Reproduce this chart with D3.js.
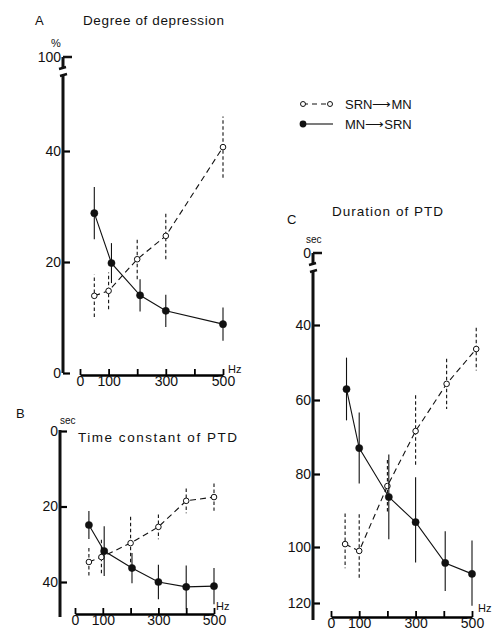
<!DOCTYPE html>
<html>
<head>
<meta charset="utf-8">
<script src="https://cdn.jsdelivr.net/npm/d3@7"></script>
<style>
  body { margin: 0; background: #fff; }
  svg { display: block; font-family: "Liberation Sans", Arial, sans-serif; }
  .tick text { font-size: 14px; fill: #111; }
  .lbl { fill: #111; }
</style>
</head>
<body>
<div id="chart"></div>
<script>
'use strict';

// frequency axis
const hzTicks = [0, 100, 200, 300, 400, 500];
const hzLabelled = [0, 100, 300, 500];

// A  Degree of depression (%)
const freqA_srnMn = [50, 100, 200, 300, 500];
const srnMnA = [13.9, 14.8, 20.5, 24.7, 40.7];
const srnMnA_sd = [3.8, 3.3, 3.6, 4.2, 5.5];
const freqA_mnSrn = [50, 110, 210, 300, 500];
const mnSrnA = [28.8, 19.8, 14.0, 11.2, 8.8];
const mnSrnA_sd = [4.7, 3.6, 2.9, 2.9, 3.0];
const ticksA = [0, 20, 40];

// B  Time constant of PTD (sec)
const freqB_srnMn = [50, 95, 200, 300, 400, 500];
const srnMnB = [34.7, 33.4, 29.7, 25.4, 18.5, 17.5];
const srnMnB_sd = [3.7, 4.6, 7.0, 3.3, 3.3, 3.6];
const freqB_mnSrn = [50, 105, 205, 300, 400, 500];
const mnSrnB = [24.9, 31.8, 36.3, 40.0, 41.3, 41.1];
const mnSrnB_sd = [3.7, 6.6, 4.0, 4.6, 5.7, 4.8];
const ticksB = [0, 20, 40];

// C  Duration of PTD (sec)
const freqC_srnMn = [50, 100, 200, 300, 410, 515];
const srnMnC = [99.2, 101.4, 83.3, 68.4, 55.7, 46.4];
const srnMnC_sd = [8.4, 10.4, 7.1, 9.7, 6.7, 5.7];
const freqC_mnSrn = [55, 100, 205, 300, 405, 500];
const mnSrnC = [57.1, 73.0, 86.3, 93.2, 105.7, 109.6];
const mnSrnC_sd = [8.4, 9.6, 11.6, 12.3, 10.0, 11.4];
const ticksC = [40, 60, 80, 100, 120];

const ink = '#111';
const width = 493, height = 634;

const svg = d3.select('#chart').append('svg')
    .attr('width', width)
    .attr('height', height);

function text(x, y, str, size, anchor) {
    return svg.append('text')
        .attr('class', 'lbl')
        .attr('x', x).attr('y', y)
        .attr('font-size', size)
        .attr('text-anchor', anchor || 'start')
        .text(str);
}

function yAxis(y, ax, ticks, top, bottom) {
    svg.append('g')
        .attr('transform', `translate(${ax},0)`)
        .call(d3.axisLeft(y).tickValues(ticks).tickSizeInner(-7).tickSizeOuter(0).tickPadding(2))
        .call(g => g.select('.domain').remove())
        .call(g => g.selectAll('.tick line').attr('stroke-width', 2.2));
    svg.append('line')
        .attr('x1', ax).attr('x2', ax)
        .attr('y1', top).attr('y2', bottom)
        .attr('stroke', ink).attr('stroke-width', 3);
}

function xAxis(x, yPos) {
    svg.append('g')
        .attr('transform', `translate(0,${yPos})`)
        .call(d3.axisBottom(x).tickValues(hzTicks).tickSizeInner(-6).tickSizeOuter(0).tickPadding(1)
            .tickFormat(d => hzLabelled.includes(d) ? d : ''))
        .call(g => g.select('.domain').attr('stroke-width', 2.5))
        .call(g => g.selectAll('.tick line').attr('stroke-width', 1.8));
}

// broken axis top: short piece with the label, then the gap
function axisBreak(ax, topY, label) {
    const seg = [
        [ax, topY, ax + 9, topY, 2.5],
        [ax, topY, ax, topY + 11, 3],
        [ax - 4, topY + 12, ax + 3, topY + 10, 2.4],
        [ax - 3, topY + 19, ax + 4, topY + 17, 2.4]
    ];
    svg.selectAll(null).data(seg).enter().append('line')
        .attr('x1', d => d[0]).attr('y1', d => d[1])
        .attr('x2', d => d[2]).attr('y2', d => d[3])
        .attr('stroke', ink).attr('stroke-width', d => d[4]);
    text(ax - 2, topY + 5, label, 14, 'end');
}

function series(x, y, xs, ys, sds, open) {
    const pts = xs.map((f, i) => ({ f: f, v: ys[i], sd: sds[i] }));
    const g = svg.append('g');
    g.selectAll('line').data(pts).enter().append('line')
        .attr('x1', d => x(d.f)).attr('x2', d => x(d.f))
        .attr('y1', d => y(d.v - d.sd)).attr('y2', d => y(d.v + d.sd))
        .attr('stroke', ink).attr('stroke-width', 1.1)
        .attr('stroke-dasharray', open ? '3.5,2.5' : null);
    g.append('path').datum(pts)
        .attr('d', d3.line().x(d => x(d.f)).y(d => y(d.v)))
        .attr('fill', 'none').attr('stroke', ink).attr('stroke-width', 1.1)
        .attr('stroke-dasharray', open ? '6,4' : null);
    g.selectAll('circle').data(pts).enter().append('circle')
        .attr('cx', d => x(d.f)).attr('cy', d => y(d.v))
        .attr('r', open ? 2.8 : 3.6)
        .attr('fill', open ? '#fff' : ink)
        .attr('stroke', ink).attr('stroke-width', open ? 1 : 0.5);
}

// ---- Panel A
let xA = d3.scaleLinear().domain([0, 500]).range([80, 223]);
let yA = d3.scaleLinear().domain([0, 40]).range([373, 151]);
text(35, 25, 'A', 13);
text(83, 25, 'Degree of depression', 13.5).attr('textLength', 141);
text(51, 47, '%', 11);
yAxis(yA, 63, ticksA, 75, 373);
axisBreak(63, 57, '100');
xAxis(xA, 375);
text(228, 373, 'Hz', 11);
series(xA, yA, freqA_srnMn, srnMnA, srnMnA_sd, true);
series(xA, yA, freqA_mnSrn, mnSrnA, mnSrnA_sd, false);

// ---- Panel B
let xB = d3.scaleLinear().domain([0, 500]).range([75, 214]);
let yB = d3.scaleLinear().domain([0, 40]).range([431, 582]);
text(16, 418, 'B', 13);
text(60, 424, 'sec', 10);
text(78, 442, 'Time constant of PTD', 13.5).attr('textLength', 159);
yAxis(yB, 60, ticksB, 430, 617);
xAxis(xB, 614);
text(216, 610, 'Hz', 11);
series(xB, yB, freqB_srnMn, srnMnB, srnMnB_sd, true);
series(xB, yB, freqB_mnSrn, mnSrnB, mnSrnB_sd, false);

// ---- Panel C
let xC = d3.scaleLinear().domain([0, 500]).range([331, 472]);
let yC = d3.scaleLinear().domain(ticksC).range([325, 400, 474, 547, 603]);
text(287, 224, 'C', 13);
text(332, 216, 'Duration of PTD', 13.5).attr('textLength', 111);
text(306, 243, 'sec', 10);
yAxis(yC, 313, ticksC, 272, 620);
axisBreak(313, 253, '0');
xAxis(xC, 617);
text(478, 612, 'Hz', 11);
series(xC, yC, freqC_srnMn, srnMnC, srnMnC_sd, true);
series(xC, yC, freqC_mnSrn, mnSrnC, mnSrnC_sd, false);

// ---- Legend
let legend = svg.append('g');
legend.append('line').attr('x1', 303).attr('x2', 330).attr('y1', 104).attr('y2', 104)
    .attr('stroke', ink).attr('stroke-width', 1.1).attr('stroke-dasharray', '5,4');
legend.append('circle').attr('cx', 303).attr('cy', 104).attr('r', 2.5).attr('fill', '#fff').attr('stroke', ink);
legend.append('circle').attr('cx', 330).attr('cy', 104).attr('r', 2.5).attr('fill', '#fff').attr('stroke', ink);
legend.append('line').attr('x1', 303).attr('x2', 333).attr('y1', 124).attr('y2', 124)
    .attr('stroke', ink).attr('stroke-width', 1.1);
legend.append('circle').attr('cx', 303).attr('cy', 124).attr('r', 3.4).attr('fill', ink);
text(345, 109, 'SRN\u27F6MN', 13);
text(345, 129, 'MN\u27F6SRN', 13);
</script>
</body>
</html>
